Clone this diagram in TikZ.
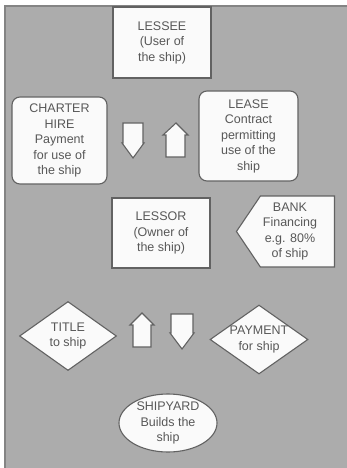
\documentclass[tikz,border=0pt]{standalone}
\usepackage{fontspec}
\setmainfont{Liberation Sans}
\usetikzlibrary{shapes.geometric,shapes.symbols}
\definecolor{lsPanel} {RGB}{172,172,172}
\definecolor{lsFrame} {RGB}{132,132,132}
\definecolor{lsLine}  {RGB}{ 98, 98, 98}
\definecolor{lsText}  {RGB}{ 88, 88, 88}
\definecolor{lsFill}  {RGB}{250,250,250}

\begin{document}
\begin{tikzpicture}[x=1pt,y=-1pt,
  every node/.style={font=\fontsize{12.5}{15.5}\selectfont,text=lsText},
  party/.style ={draw=lsLine,fill=lsFill,line width=1.1pt,inner sep=0pt,
                 align=center,minimum width=98pt,minimum height=71pt},
  flow/.style  ={party,rounded corners=8pt},
  deal/.style  ={draw=lsLine,fill=lsFill,line width=1.1pt,diamond,
                 inner sep=0pt,minimum width=97pt,minimum height=69pt},
  yard/.style  ={draw=lsLine,fill=lsFill,line width=1.1pt,ellipse,
                 inner sep=0pt,minimum width=98pt,minimum height=58pt},
  tag/.style   ={align=center,inner sep=0pt},
  blk/.style   ={draw=lsLine,fill=lsFill,line width=1.1pt,line join=miter}
]
\useasboundingbox (0,0) rectangle (347,468);
\fill[lsPanel] (5,6) rectangle (347,468);
\draw[lsFrame,line width=1.5pt] (5,468) -- (5,6) -- (347,6);

% parties
\node[party] (lessee) at (162,42.5) [minimum height=71pt]
  {LESSEE\\(User of\\the ship)};
\node[flow]  (hire)   at (59.5,140.5) [minimum width=95pt,minimum height=87pt]
  {CHARTER\\HIRE\\Payment\\for use of\\the ship};
\node[flow]  (lease)  at (248.5,136) [minimum width=99pt,minimum height=90pt]
  {LEASE\\Contract\\permitting\\use of the\\ship};
\node[party] (lessor) at (161,233) [minimum height=70pt]
  {LESSOR\\(Owner of\\the ship)};
\node[draw=lsLine,fill=lsFill,line width=1.1pt,signal,signal to=west,
      signal pointer angle=112,inner sep=0pt,
      minimum width=98pt,minimum height=71pt,anchor=east]
  (bank) at (335,231.5) {};
\node[tag] at (290,231.5) {BANK\\Financing\\e.g. 80\%\\of ship};

% block arrows between lessee and lessor
\draw[blk] (123,123) -- (143,123) -- (143,143) -- (144,143) -- (133,158)
  -- (122,143) -- (123,143) -- cycle;
\draw[blk] (166,157) -- (185,157) -- (185,135) -- (188,135) -- (176,123)
  -- (163,135) -- (166,135) -- cycle;

% title and payment
\node[deal] (title)   at (68,336) {};
\node[tag]  at (title)   {TITLE\\to ship};
\node[deal] (payment) at (259,339.5) [minimum width=98pt] {};
\node[tag]  at (payment) {PAYMENT\\for ship};
\draw[blk] (133,347) -- (151,347) -- (151,325) -- (154,325) -- (142,313)
  -- (130,325) -- (133,325) -- cycle;
\draw[blk] (171,314) -- (193,314) -- (193,333) -- (194,333) -- (182,349)
  -- (170,333) -- (171,333) -- cycle;

% shipyard
\node[yard] (yard) at (168,423) {};
\node[tag]  at (yard) {SHIPYARD\\Builds the\\ship};
\end{tikzpicture}
\end{document}
